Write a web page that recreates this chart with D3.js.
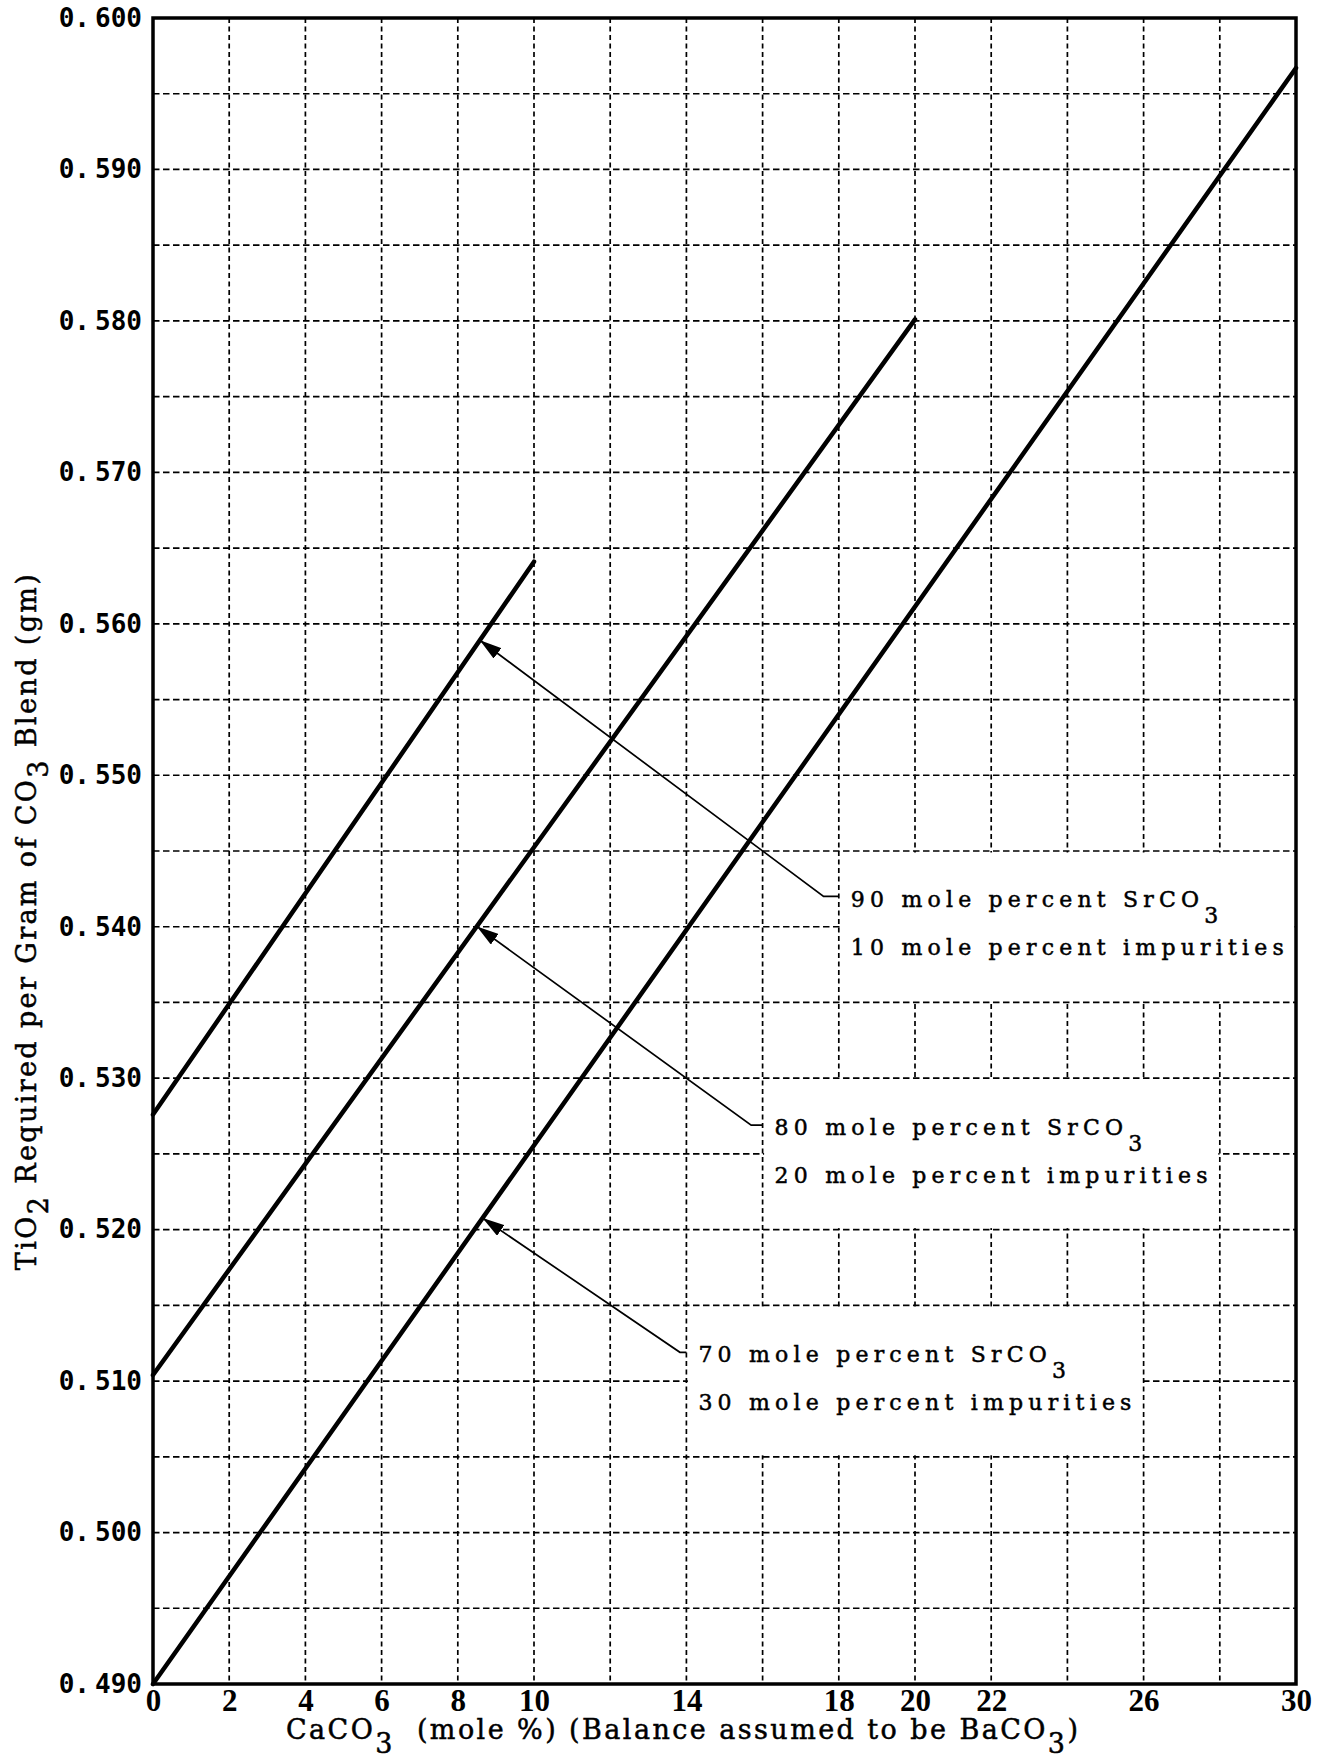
<!DOCTYPE html>
<html>
<head>
<meta charset="utf-8">
<script src="https://cdn.jsdelivr.net/npm/d3@7"></script>
<style>
  body { margin: 0; background: #fff; }
  .serif { font-family: 'DejaVu Serif', serif; fill: #000; stroke: #000; stroke-width: 0.5px; }
</style>
</head>
<body>
<div id="chart"></div>
<script>
// values
const xTicks = [0, 2, 4, 6, 8, 10, 14, 18, 20, 22, 26, 30];
const xGrid = [2, 4, 6, 8, 10, 12, 14, 16, 18, 20, 22, 24, 26, 28];
const yTicks = [0.490, 0.500, 0.510, 0.520, 0.530, 0.540, 0.550, 0.560, 0.570, 0.580, 0.590, 0.600];
const yGrid = [0.495, 0.500, 0.505, 0.510, 0.515, 0.520, 0.525, 0.530, 0.535, 0.540, 0.545,
               0.550, 0.555, 0.560, 0.565, 0.570, 0.575, 0.580, 0.585, 0.590, 0.595];

const srco3 = [90, 80, 70];          // mole percent SrCO3
const impurities = [10, 20, 30];     // mole percent impurities
const caco3Start = [0, 0, 0];
const caco3End = [10, 20, 30];
const tio2Start = [0.5276, 0.5104, 0.4900];
const tio2End = [0.5641, 0.5801, 0.5967];

const arrowAt = [8.58, 8.5, 8.65];   // CaCO3 where each arrow hits its line

var margin = {top: 18, right: 29, bottom: 76, left: 153},
    width = 1325 - margin.left - margin.right,
    height = 1760 - margin.top - margin.bottom;

var svgRoot = d3.select("#chart")
  .append("svg")
    .attr("width", 1325)
    .attr("height", 1760)
    .style("display", "block");

var svg = svgRoot.append("g")
    .attr("transform", `translate(${margin.left},${margin.top})`);

svgRoot.append("defs").append("marker")
    .attr("id", "arrow")
    .attr("viewBox", "0 0 22 13")
    .attr("refX", 22).attr("refY", 6.5)
    .attr("markerWidth", 22).attr("markerHeight", 13)
    .attr("markerUnits", "userSpaceOnUse")
    .attr("orient", "auto")
  .append("path")
    .attr("d", "M0,0 L22,6.5 L0,13 Z")
    .attr("fill", "#000");

var x = d3.scaleLinear().domain([0, 30]).range([0, width]);
var y = d3.scaleLinear().domain([0.49, 0.60]).range([height, 0]);

// dashed grid
svg.append("g")
  .selectAll("line")
  .data(xGrid)
  .join("line")
    .attr("x1", d => x(d)).attr("x2", d => x(d))
    .attr("y1", 0).attr("y2", height)
    .attr("stroke", "#000")
    .attr("stroke-width", 1.7)
    .attr("stroke-dasharray", "5,3.5");

svg.append("g")
  .selectAll("line")
  .data(yGrid)
  .join("line")
    .attr("x1", 0).attr("x2", width)
    .attr("y1", d => y(d)).attr("y2", d => y(d))
    .attr("stroke", "#000")
    .attr("stroke-width", 1.7)
    .attr("stroke-dasharray", "6.5,3.5");

// label boxes: one grid cell high, 12 units wide
var boxes = [
  {x0: 18, y0: 0.535, elbow: [17.6, 0.5420]},
  {x0: 16, y0: 0.520, elbow: [15.7, 0.5269]},
  {x0: 14, y0: 0.505, elbow: [13.83, 0.5119]}
];

svg.append("g")
  .selectAll("rect")
  .data(boxes)
  .join("rect")
    .attr("x", d => x(d.x0) + 1.5)
    .attr("y", d => y(d.y0 + 0.01) + 1.5)
    .attr("width", d => x(d.x0 + 12) - x(d.x0) - 3)
    .attr("height", d => y(d.y0) - y(d.y0 + 0.01) - 3)
    .attr("fill", "#fff");

// curves
var line = d3.line().x(d => x(d[0])).y(d => y(d[1]));
svg.append("g")
  .selectAll("path")
  .data(srco3.map((s, i) => [[caco3Start[i], tio2Start[i]], [caco3End[i], tio2End[i]]]))
  .join("path")
    .attr("d", line)
    .attr("fill", "none")
    .attr("stroke", "#000")
    .attr("stroke-width", 4.5)
    .attr("stroke-linecap", "round");

// leaders with arrows
boxes.forEach(function(b, i) {
  var t = d3.scaleLinear().domain([caco3Start[i], caco3End[i]]).range([tio2Start[i], tio2End[i]]);
  var tip = [arrowAt[i], t(arrowAt[i])];
  svg.append("path")
    .attr("d", `M${x(b.x0)},${y(b.elbow[1])} L${x(b.elbow[0])},${y(b.elbow[1])} L${x(tip[0])},${y(tip[1])}`)
    .attr("fill", "none")
    .attr("stroke", "#000")
    .attr("stroke-width", 1.7)
    .attr("marker-end", "url(#arrow)");
});

// box texts
boxes.forEach(function(b, i) {
  var tx = x(b.x0) + 12;
  var by = y(b.y0);
  var l1 = svg.append("text")
    .attr("class", "serif")
    .attr("x", tx).attr("y", by - 95)
    .style("font-size", "22px");
  l1.append("tspan").text(srco3[i] + " mole percent SrCO");
  l1.append("tspan").attr("dy", 16).text("3");
  var l2 = svg.append("text")
    .attr("class", "serif")
    .attr("x", tx).attr("y", by - 47)
    .style("font-size", "22px")
    .text(impurities[i] + " mole percent impurities");
  var n = l2.text().length;
  var ls = (433 - l2.node().getComputedTextLength()) / (n - 1);
  l1.style("letter-spacing", ls + "px");
  l2.style("letter-spacing", ls + "px");
});

// frame
svg.append("rect")
    .attr("x", 0).attr("y", 0)
    .attr("width", width).attr("height", height)
    .attr("fill", "none")
    .attr("stroke", "#000")
    .attr("stroke-width", 3.5);

// axes
var yAxis = svg.append("g")
  .call(d3.axisLeft(y)
    .tickValues(yTicks)
    .tickSize(0)
    .tickPadding(11)
    .tickFormat(d3.format(".3f")));
yAxis.select(".domain").remove();
yAxis.selectAll("text")
    .style("font-family", "'DejaVu Sans Mono', monospace")
    .style("font-weight", "bold")
    .style("font-size", "26px")
    .attr("fill", "#000")
    .each(function(d) {
      var s = d3.format(".3f")(d).split(".");
      var el = d3.select(this).text(s[0] + ".");
      el.append("tspan").attr("dx", 5).text(s[1]);
    });

var xAxis = svg.append("g")
    .attr("transform", `translate(0,${height})`)
  .call(d3.axisBottom(x)
    .tickValues(xTicks)
    .tickSize(0)
    .tickFormat(d3.format("d")));
xAxis.select(".domain").remove();
xAxis.selectAll("text")
    .attr("y", 27).attr("dy", 0)
    .style("font-family", "'Liberation Serif', serif")
    .style("font-weight", "bold")
    .style("font-size", "31px")
    .attr("fill", "#000");

// axis titles
var xt = svgRoot.append("text")
    .attr("class", "serif")
    .attr("x", 286).attr("y", 1739)
    .style("font-size", "27px");
xt.append("tspan").text("CaCO");
xt.append("tspan").attr("dy", 14).text("3");
xt.append("tspan").attr("dy", -14).text("\u00a0 (mole %) (Balance assumed to be BaCO");
xt.append("tspan").attr("dy", 14).text("3");
xt.append("tspan").attr("dy", -14).text(")");
var xn = "CaCO3  (mole %) (Balance assumed to be BaCO3)".length;
xt.style("letter-spacing", ((792 - xt.node().getComputedTextLength()) / (xn - 1)) + "px");

var yt = svgRoot.append("text")
    .attr("class", "serif")
    .attr("transform", "translate(36,921) rotate(-90)")
    .attr("text-anchor", "middle")
    .style("font-size", "27px");
yt.append("tspan").text("TiO");
yt.append("tspan").attr("dy", 12).text("2");
yt.append("tspan").attr("dy", -12).text(" Required per Gram of CO");
yt.append("tspan").attr("dy", 12).text("3");
yt.append("tspan").attr("dy", -12).text(" Blend (gm)");
var yn = "TiO2 Required per Gram of CO3 Blend (gm)".length;
yt.style("letter-spacing", ((696 - yt.node().getComputedTextLength()) / (yn - 1)) + "px");
</script>
</body>
</html>
